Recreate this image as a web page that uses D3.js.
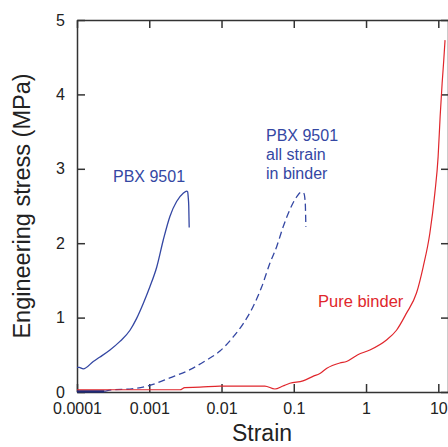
<!DOCTYPE html>
<html>
<head>
<meta charset="utf-8">
<script src="https://cdn.jsdelivr.net/npm/d3@7"></script>
<style>
  body { margin: 0; background: #fff; }
  svg text { font-family: "Liberation Sans", Arial, sans-serif; }
</style>
</head>
<body>
<script>
// data
var strainTicks = [0.0001, 0.001, 0.01, 0.1, 1, 10];
var strainTickLabels = ["0.0001", "0.001", "0.01", "0.1", "1", "10"];
var stressTicks = [0, 1, 2, 3, 4, 5];

// PBX 9501 (solid)
var pbxStrain = [1e-4, 1.07e-4, 1.22e-4, 1.68e-4, 2.08e-4, 2.86e-4, 3.93e-4, 5.41e-4, 6.69e-4, 8.26e-4,
                 1.02e-3, 1.27e-3, 1.56e-3, 1.93e-3, 2.39e-3, 2.95e-3, 3.29e-3, 3.40e-3, 3.46e-3, 3.52e-3, 3.57e-3];
var pbxStress = [0.33, 0.33, 0.31, 0.41, 0.47, 0.565, 0.68, 0.83, 0.99, 1.19,
                 1.415, 1.68, 2.04, 2.36, 2.56, 2.67, 2.70, 2.69, 2.62, 2.50, 2.21];

// PBX 9501, all strain in binder (dashed)
var binderStartStrain = [1e-4, 2.4e-4];
var binderStartStress = [0.008, 0.008];
var allStrain = [2.4e-4, 3.15e-4, 5.41e-4, 1.02e-3, 1.93e-3, 3.66e-3, 6.22e-3, 9.51e-3, 0.0145, 0.020,
                 0.0274, 0.0359, 0.0467, 0.0578, 0.0713, 0.0882, 0.109, 0.128, 0.138, 0.144, 0.147];
var allStress = [0.008, 0.03, 0.04, 0.09, 0.19, 0.30, 0.43, 0.55, 0.74, 0.92,
                 1.15, 1.41, 1.73, 1.95, 2.22, 2.45, 2.62, 2.69, 2.67, 2.55, 2.22];

// Pure binder (red)
var pureStrain = [1e-4, 2.66e-3, 3.1e-3, 5.02e-3, 9.51e-3, 0.0398, 0.0548, 0.0706, 0.0882, 0.134,
                  0.184, 0.23, 0.287, 0.434, 0.537, 0.77, 1.13, 1.92, 2.64, 3.63,
                  4.99, 6.17, 7.63, 8.95, 9.94, 10.6, 11.3, 11.9, 12.4];
var pureStress = [0.03, 0.03, 0.06, 0.065, 0.08, 0.08, 0.04, 0.08, 0.117, 0.15,
                  0.21, 0.25, 0.32, 0.39, 0.41, 0.50, 0.565, 0.70, 0.83, 1.06,
                  1.33, 1.68, 2.13, 2.67, 3.16, 3.70, 4.15, 4.46, 4.73];

var width = 448, height = 447;
var plotLeft = 77, plotRight = 448, plotTop = 20, plotBottom = 392;
var blue = "#3447a3", red = "#e0262c", axisColor = "#333";

var svg = d3.select("body").append("svg")
    .attr("width", width)
    .attr("height", height);

// 10 sits at x=438.3, so the axis runs a bit past it
var xMax = Math.pow(10, 1 + (plotRight - 438.3) / ((438.3 - plotLeft) / 5));
var xScale = d3.scaleLog().domain([1e-4, xMax]).range([plotLeft, plotRight]);
var yScale = d3.scaleLinear().domain([0, 5]).range([plotBottom, plotTop]);

function styleAxis(g) {
  g.selectAll("path, line").attr("stroke", axisColor).attr("stroke-width", 1.5);
  g.selectAll("text").attr("fill", "#222").style("font-size", "16px");
}

svg.append("g")
    .attr("transform", "translate(0," + plotBottom + ")")
    .call(d3.axisBottom(xScale).tickValues(strainTicks)
      .tickFormat(function(d, i) { return strainTickLabels[i]; })
      .tickSize(-8).tickSizeOuter(0).tickPadding(11))
    .call(styleAxis);

svg.append("g")
    .attr("transform", "translate(0," + plotTop + ")")
    .call(d3.axisTop(xScale).tickValues(strainTicks).tickFormat("")
      .tickSize(-8).tickSizeOuter(0))
    .call(styleAxis);

svg.append("g")
    .attr("transform", "translate(" + plotLeft + ",0)")
    .call(d3.axisLeft(yScale).tickValues(stressTicks).tickFormat(d3.format("d"))
      .tickSize(-8).tickSizeOuter(0).tickPadding(12))
    .call(styleAxis);

svg.append("g")
    .attr("transform", "translate(" + plotRight + ",0)")
    .call(d3.axisRight(yScale).tickValues(stressTicks).tickFormat("")
      .tickSize(-7).tickSizeOuter(0))
    .call(styleAxis);

function series(xs, ys) {
  return xs.map(function(s, i) { return [s, ys[i]]; });
}

var line = d3.line()
    .x(function(d) { return xScale(d[0]); })
    .y(function(d) { return yScale(d[1]); })
    .curve(d3.curveMonotoneX);

svg.append("path")
    .datum(series(allStrain, allStress))
    .attr("d", line)
    .attr("fill", "none")
    .attr("stroke", blue)
    .attr("stroke-width", 1.3)
    .attr("stroke-dasharray", "7,4");

svg.append("path")
    .datum(series(binderStartStrain, binderStartStress))
    .attr("d", line)
    .attr("fill", "none")
    .attr("stroke", "#1f2a78")
    .attr("stroke-width", 2.5);

svg.append("path")
    .datum(series(pbxStrain, pbxStress))
    .attr("d", line)
    .attr("fill", "none")
    .attr("stroke", blue)
    .attr("stroke-width", 1.3);

svg.append("path")
    .datum(series(pureStrain, pureStress))
    .attr("d", line)
    .attr("fill", "none")
    .attr("stroke", red)
    .attr("stroke-width", 1.2);

// labels on the curves
svg.append("text")
    .attr("x", 113).attr("y", 181.5)
    .attr("fill", blue).style("font-size", "16px")
    .text("PBX 9501");

var note = svg.append("text")
    .attr("fill", blue).style("font-size", "16px");
["PBX 9501", "all strain", "in binder"].forEach(function(t, i) {
  note.append("tspan").attr("x", 266).attr("y", 141 + i * 19).text(t);
});

svg.append("text")
    .attr("x", 318).attr("y", 307)
    .attr("fill", red).style("font-size", "16.5px")
    .text("Pure binder");

// axis titles
svg.append("text")
    .attr("x", 262).attr("y", 441)
    .attr("text-anchor", "middle")
    .attr("fill", "#222").style("font-size", "23px")
    .text("Strain");

svg.append("text")
    .attr("transform", "translate(30," + 206 + ") rotate(-90)")
    .attr("text-anchor", "middle")
    .attr("fill", "#222").style("font-size", "23.5px")
    .text("Engineering stress (MPa)");
</script>
</body>
</html>
